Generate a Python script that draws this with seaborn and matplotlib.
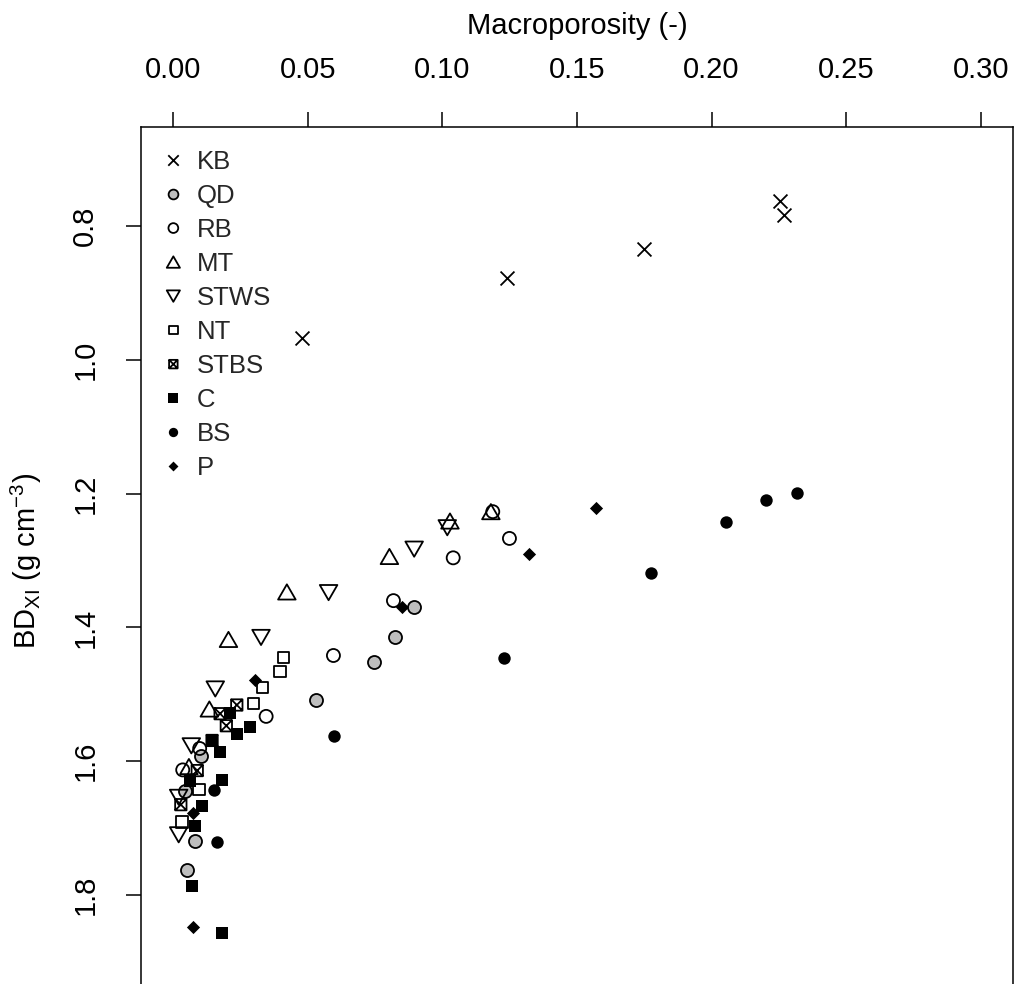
import numpy as np
import matplotlib
matplotlib.use("Agg")
import matplotlib.pyplot as plt
from matplotlib.path import Path
import seaborn as sns

# ---------------- data ----------------
series_names = ["KB", "QD", "RB", "MT", "STWS", "NT", "STBS", "C", "BS", "P"]

kb_x = [0.048, 0.124, 0.175, 0.2253, 0.2268]
kb_y = [0.968, 0.877, 0.834, 0.763, 0.783]

qd_x = [0.0895, 0.0822, 0.0746, 0.0530, 0.0104, 0.0042, 0.0082, 0.0051]
qd_y = [1.370, 1.415, 1.451, 1.508, 1.592, 1.645, 1.719, 1.763]

rb_x = [0.1187, 0.1249, 0.1040, 0.0818, 0.0595, 0.0345, 0.0098, 0.0035]
rb_y = [1.227, 1.267, 1.296, 1.360, 1.442, 1.533, 1.581, 1.613]

mt_x = [0.1180, 0.1028, 0.0803, 0.0422, 0.0205, 0.0134, 0.0058]
mt_y = [1.227, 1.241, 1.294, 1.347, 1.418, 1.522, 1.608]

stws_x = [0.1018, 0.0895, 0.0577, 0.0326, 0.0156, 0.0067, 0.0020, 0.0020]
stws_y = [1.251, 1.283, 1.348, 1.415, 1.492, 1.577, 1.654, 1.710]

nt_x = [0.0409, 0.0397, 0.0332, 0.0297, 0.0095, 0.0032]
nt_y = [1.445, 1.466, 1.490, 1.514, 1.642, 1.691]

stbs_x = [0.0236, 0.0174, 0.0197, 0.0144, 0.0089, 0.0028]
stbs_y = [1.516, 1.529, 1.547, 1.569, 1.614, 1.665]

c_x = [0.0212, 0.0286, 0.0238, 0.0144, 0.0172, 0.0181, 0.0063, 0.0105, 0.0079, 0.0069, 0.0181]
c_y = [1.528, 1.549, 1.559, 1.568, 1.587, 1.628, 1.629, 1.667, 1.697, 1.787, 1.857]

bs_x = [0.2317, 0.2201, 0.2055, 0.1774, 0.1230, 0.0596, 0.0151, 0.0162]
bs_y = [1.199, 1.210, 1.242, 1.318, 1.445, 1.563, 1.643, 1.721]

p_x = [0.1570, 0.1323, 0.0851, 0.0303, 0.0075, 0.0072]
p_y = [1.221, 1.290, 1.370, 1.478, 1.678, 1.848]

x_ticks = [0.00, 0.05, 0.10, 0.15, 0.20, 0.25, 0.30]
x_tick_labels = ["0.00", "0.05", "0.10", "0.15", "0.20", "0.25", "0.30"]
y_ticks = [0.8, 1.0, 1.2, 1.4, 1.6, 1.8]
y_tick_labels = ["0.8", "1.0", "1.2", "1.4", "1.6", "1.8"]

# ---------------- style ----------------
sns.set_style("white")
plt.rcParams["font.family"] = ["Liberation Sans", "DejaVu Sans"]
plt.rcParams["mathtext.fontset"] = "custom"
plt.rcParams["mathtext.rm"] = "Liberation Sans"
plt.rcParams["mathtext.it"] = "Liberation Sans:italic"
plt.rcParams["mathtext.default"] = "regular"

FS = 21

# custom marker paths (R-like symbols)
tri_up = Path([(0, 1.1665), (1.347, -1.1665), (-1.347, -1.1665), (0, 1.1665)],
              [Path.MOVETO, Path.LINETO, Path.LINETO, Path.CLOSEPOLY])
tri_dn = Path([(0, -1.1665), (1.347, 1.1665), (-1.347, 1.1665), (0, -1.1665)],
              [Path.MOVETO, Path.LINETO, Path.LINETO, Path.CLOSEPOLY])
box_x = Path([(-1, -1), (1, -1), (1, 1), (-1, 1), (-1, -1),
              (-1, -1), (1, 1), (-1, 1), (1, -1)],
             [Path.MOVETO, Path.LINETO, Path.LINETO, Path.LINETO, Path.CLOSEPOLY,
              Path.MOVETO, Path.LINETO, Path.MOVETO, Path.LINETO])
diamond = Path([(0, 1), (1, 0), (0, -1), (-1, 0), (0, 1)],
               [Path.MOVETO, Path.LINETO, Path.LINETO, Path.LINETO, Path.CLOSEPOLY])

LW = 1.3
styles = {
    "KB":   dict(marker="x", s=100, color="black", linewidth=LW),
    "QD":   dict(marker="o", s=88, facecolor="#BEBEBE", edgecolor="black", linewidth=LW),
    "RB":   dict(marker="o", s=88, facecolor="none", edgecolor="black", linewidth=LW),
    "MT":   dict(marker=tri_up, s=160, facecolor="none", edgecolor="black", linewidth=LW),
    "STWS": dict(marker=tri_dn, s=160, facecolor="none", edgecolor="black", linewidth=LW),
    "NT":   dict(marker="s", s=67, facecolor="none", edgecolor="black", linewidth=LW),
    "STBS": dict(marker=box_x, s=67, facecolor="none", edgecolor="black", linewidth=LW),
    "C":    dict(marker="s", s=80, facecolor="black", edgecolor="black", linewidth=0),
    "BS":   dict(marker="o", s=80, facecolor="black", edgecolor="black", linewidth=0),
    "P":    dict(marker=diamond, s=90, facecolor="black", edgecolor="black", linewidth=0),
}
data = {
    "KB": (kb_x, kb_y), "QD": (qd_x, qd_y), "RB": (rb_x, rb_y), "MT": (mt_x, mt_y),
    "STWS": (stws_x, stws_y), "NT": (nt_x, nt_y), "STBS": (stbs_x, stbs_y),
    "C": (c_x, c_y), "BS": (bs_x, bs_y), "P": (p_x, p_y),
}

W, H = 1014, 984
fig = plt.figure(figsize=(W / 100, H / 100), dpi=100)
fig.patch.set_facecolor("white")
ax = fig.add_axes([141 / W, -10 / H, 872 / W, 867 / H])
ax.set_facecolor("white")

for name in series_names:
    xs, ys = data[name]
    sns.scatterplot(x=xs, y=ys, ax=ax, label=name, legend=False, **styles[name])

ax.set_xlim(-0.012, 0.312)
ax.set_ylim(1.948, 0.652)

ax.xaxis.tick_top()
ax.xaxis.set_label_position("top")
ax.set_xticks(x_ticks)
ax.set_xticklabels(x_tick_labels)
ax.set_yticks(y_ticks)
ax.set_yticklabels(y_tick_labels, rotation=90, va="center")

ax.tick_params(axis="x", which="major", top=True, bottom=False, direction="out",
               length=11, width=1.1, color="black", labelsize=FS, pad=20,
               labelcolor="black")
ax.tick_params(axis="y", which="major", left=True, right=False, direction="out",
               length=11, width=1.1, color="black", labelsize=FS, pad=19,
               labelcolor="black")

for sp in ax.spines.values():
    sp.set_visible(True)
    sp.set_color("black")
    sp.set_linewidth(1.1)

ax.set_xlabel("Macroporosity (-)", fontsize=FS, color="black")
ax.xaxis.set_label_coords(0.5, 1.0 + 93 / 867)
ax.set_ylabel(r"BD$_{\mathrm{XI}}$ (g cm$^{-3}$)", fontsize=FS, color="black")
ax.yaxis.set_label_coords(-0.111, 0.5)

handles, labels = ax.get_legend_handles_labels()
ax.legend(handles, labels, loc="upper left", bbox_to_anchor=(19.5 / 872, 1 - 23 / 867),
          frameon=False, fontsize=18.5, markerscale=0.75, handlelength=1.0,
          handletextpad=0.4, labelspacing=0.39, borderpad=0, borderaxespad=0,
          scatterpoints=1, scatteryoffsets=[0.5])

fig.savefig("out.png", dpi=100, facecolor="white")
